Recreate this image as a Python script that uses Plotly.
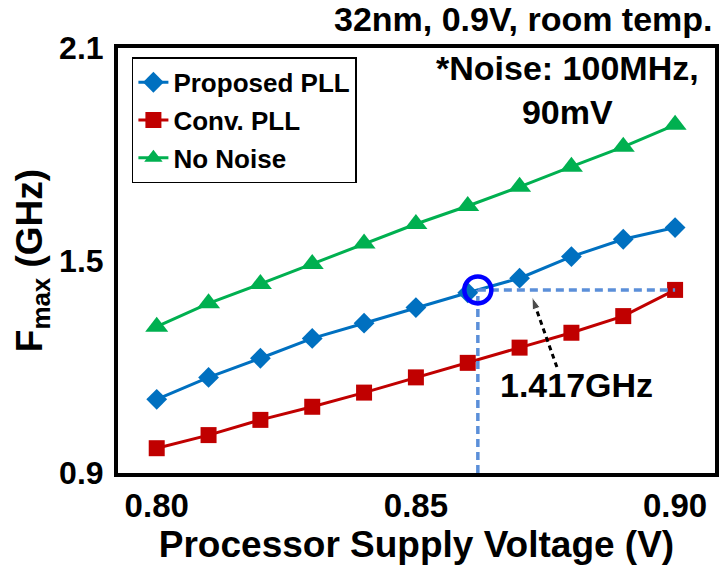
import numpy as np
import plotly.graph_objects as go

# Supply voltage sweep (V)
voltage = [0.80, 0.81, 0.82, 0.83, 0.84, 0.85, 0.86, 0.87, 0.88, 0.89, 0.90]

# Maximum operating frequency (GHz) for each PLL configuration
proposed_pll = [1.108, 1.170, 1.224, 1.280, 1.323, 1.367, 1.409, 1.450, 1.511, 1.560, 1.593]
conv_pll = [0.970, 1.007, 1.050, 1.087, 1.127, 1.170, 1.211, 1.254, 1.296, 1.343, 1.417]
no_noise = [1.313, 1.379, 1.434, 1.490, 1.548, 1.603, 1.654, 1.708, 1.765, 1.821, 1.883]

x_ticks = [0.80, 0.85, 0.90]
x_tick_text = ["0.80", "0.85", "0.90"]
y_ticks = [0.9, 1.5, 2.1]
y_tick_text = ["0.9", "1.5", "2.1"]

BLUE = "#0070C0"
RED = "#C00000"
GREEN = "#00B050"
GUIDE = "#5B8FD9"
FONT = "Liberation Sans"

# Conv. PLL frequency at nominal supply, and the voltage at which the
# proposed PLL reaches the same frequency
target_f = conv_pll[-1]
match_v = float(np.interp(target_f, proposed_pll, voltage))

fig = go.Figure()

series = [
    ("Proposed PLL", proposed_pll, BLUE, "diamond", 16),
    ("Conv. PLL", conv_pll, RED, "square", 16),
    ("No Noise", no_noise, GREEN, "triangle-up", 20),
]
for name, vals, color, symbol, size in series:
    fig.add_trace(go.Scatter(
        x=voltage, y=vals, name=name, legendgroup=name,
        mode="lines+markers",
        line=dict(color=color, width=3),
        marker=dict(symbol=symbol, size=size, color=color),
    ))

# Guide lines from the matching point
fig.add_trace(go.Scatter(
    x=[match_v, voltage[-1]], y=[target_f, target_f], mode="lines",
    line=dict(color=GUIDE, width=3.5, dash="8px,5px"),
    showlegend=False, hoverinfo="skip",
))
fig.add_trace(go.Scatter(
    x=[match_v, match_v], y=[y_ticks[0], target_f], mode="lines",
    line=dict(color=GUIDE, width=3.5, dash="8px,5px"),
    showlegend=False, hoverinfo="skip",
))
fig.add_trace(go.Scatter(
    x=[match_v], y=[target_f], mode="markers",
    marker=dict(symbol="circle-open", size=27, color="#0000FF",
                line=dict(width=4.5, color="#0000FF")),
    showlegend=False, hoverinfo="skip",
))

# Dotted arrow pointing at the guide line
fig.add_trace(go.Scatter(
    x=[0.8772, 0.8724], y=[1.199, target_f - 0.02], mode="lines+markers",
    line=dict(color="black", width=3, dash="5px,4px"),
    marker=dict(symbol=["circle", "arrow"], size=[0, 13], color="black",
                angleref="previous"),
    showlegend=False, hoverinfo="skip",
))

fig.add_annotation(
    x=0.881, y=1.1485, xref="x", yref="y",
    text=f"{target_f:.3f}GHz", showarrow=False,
    font=dict(family=FONT, size=34, color="black", weight="bold"),
)

fig.add_annotation(
    x=1.0, y=1.0, xref="paper", yref="paper", yshift=29,
    xanchor="right", yanchor="middle",
    text="32nm, 0.9V, room temp.", showarrow=False,
    font=dict(family=FONT, size=34, color="black", weight="bold"),
)
fig.add_annotation(
    x=0.7525, y=0.901, xref="paper", yref="paper",
    xanchor="center", yanchor="middle", align="center",
    text="*Noise: 100MHz,<br>90mV", showarrow=False,
    font=dict(family=FONT, size=34, color="black", weight="bold"),
)

axis_common = dict(
    showline=True, mirror=True, linewidth=4, linecolor="black",
    showgrid=False, zeroline=False, ticks="",
)

fig.update_layout(
    width=726, height=567,
    margin=dict(l=118, r=7, t=48, b=94),
    paper_bgcolor="white", plot_bgcolor="white",
    font=dict(family=FONT, color="black", weight="bold"),
    xaxis=dict(
        range=[0.79253, 0.9077], tickvals=x_ticks, ticktext=x_tick_text,
        tickfont=dict(size=33), ticklabelstandoff=0,
        title=dict(text="Processor Supply Voltage (V)",
                   font=dict(size=37), standoff=2),
        **axis_common,
    ),
    yaxis=dict(
        range=[0.9, 2.1], tickvals=y_ticks, ticktext=y_tick_text,
        tickfont=dict(size=32), ticklabelstandoff=4,
        title=dict(text="F<sub>max</sub> (GHz)",
                   font=dict(size=37), standoff=6),
        **axis_common,
    ),
    legend=dict(
        x=0.0233, y=0.978, xanchor="left", yanchor="top",
        bgcolor="white", bordercolor="black", borderwidth=1.5,
        font=dict(size=26, family=FONT, weight="bold"),
        tracegroupgap=1, itemclick=False,
    ),
    showlegend=True,
)

fig.write_html("out.html")
